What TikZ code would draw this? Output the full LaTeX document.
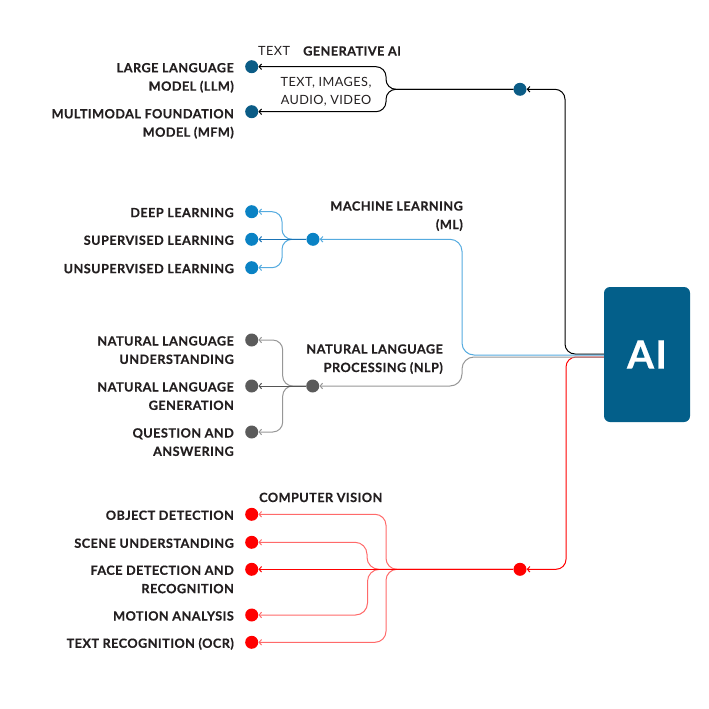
\documentclass[tikz,border=0pt]{standalone}
\usepackage{fontspec}
\setmainfont{Lato}[LetterSpace=3.5, BoldFeatures={FakeBold=0.4}]
\usetikzlibrary{arrows.meta}
\definecolor{txt}{HTML}{231F20}
\definecolor{aiblue}{HTML}{035F8A}
\definecolor{gendot}{HTML}{0B5C86}
\definecolor{mldot}{HTML}{0A82C4}
\definecolor{mllight}{HTML}{55ABDF}
\definecolor{mldark}{HTML}{1A73B5}
\definecolor{nlpdot}{HTML}{5B5B5B}
\definecolor{nlpline}{HTML}{979797}
\definecolor{nlpdark}{HTML}{555555}
\definecolor{cvred}{HTML}{FF0000}
\definecolor{cvlight}{HTML}{FF6A6A}
\begin{document}
\begin{tikzpicture}[x=1pt,y=-1pt,
  font=\fontsize{12.7}{18.4}\selectfont\bfseries,
  dotn/.style={circle, inner sep=0pt, minimum size=13pt, fill=#1},
  lbl/.style={anchor=base east, align=right, inner sep=0pt, text=txt},
  lblw/.style={anchor=base west, inner sep=0pt, text=txt},
  conn/.style={<-, >={Straight Barb[length=2.5pt,width=5.5pt]}, rounded corners=10pt, line width=1pt}]
\useasboundingbox (0,0) rectangle (709,709);

% AI box
\node[fill=aiblue, rounded corners=6pt, minimum width=86pt, minimum height=135pt, inner sep=0pt,
      text=white, font=\fontsize{39}{39}\selectfont\bfseries] (ai) at (647,354.5) {AI};

% Generative AI
\node[dotn=gendot] (genhub) at (520,89.3) {};
\node[dotn=gendot] (llm) at (251.7,66.7) {};
\node[dotn=gendot] (mfm) at (251.7,111.7) {};
\node[lblw, font=\fontsize{12.7}{18.4}\selectfont] (ttext) at (258,55.6) {TEXT};
\node[lblw] (genlbl) at (303,55.6) {GENERATIVE AI};
\node[anchor=base, align=center, inner sep=0pt, text=txt, font=\fontsize{12.7}{17.3}\selectfont] (media) at (326,104) {TEXT, IMAGES,\\AUDIO, VIDEO};
\node[lbl] (llml) at (234,90.7) {LARGE LANGUAGE\\MODEL (LLM)};
\node[lbl] (mfml) at (234,136.7) {MULTIMODAL FOUNDATION\\MODEL (MFM)};

% Machine learning
\node[dotn=mldot] (mlhub) at (313,239.3) {};
\node[dotn=mldot] (dl) at (251.7,211.7) {};
\node[dotn=mldot] (sl) at (251.7,239.3) {};
\node[dotn=mldot] (ul) at (251.7,267.7) {};
\node[lbl] (dll) at (234,217.2) {DEEP LEARNING};
\node[lbl] (sll) at (234,244.8) {SUPERVISED LEARNING};
\node[lbl] (ull) at (234,273.2) {UNSUPERVISED LEARNING};
\node[lbl] (mllbl) at (463,229) {MACHINE LEARNING\\(ML)};

% NLP
\node[dotn=nlpdot] (nlphub) at (312.7,386) {};
\node[dotn=nlpdot] (nlu) at (251.7,340) {};
\node[dotn=nlpdot] (nlg) at (251.7,386) {};
\node[dotn=nlpdot] (qa) at (251.7,432) {};
\node[lbl] (nlul) at (234,363.9) {NATURAL LANGUAGE\\UNDERSTANDING};
\node[lbl] (nlgl) at (234,409.9) {NATURAL LANGUAGE\\GENERATION};
\node[lbl] (qal) at (234,455.9) {QUESTION AND\\ANSWERING};
\node[lbl] (nlplbl) at (443,372) {NATURAL LANGUAGE\\PROCESSING (NLP)};

% Computer vision
\node[dotn=cvred] (cvhub) at (520,569.3) {};
\node[dotn=cvred] (od) at (251.7,514.3) {};
\node[dotn=cvred] (su) at (251.7,542.3) {};
\node[dotn=cvred] (fd) at (251.7,569.3) {};
\node[dotn=cvred] (ma) at (251.7,615) {};
\node[dotn=cvred] (tr) at (251.7,642.3) {};
\node[lblw] (cvlbl) at (259,502) {COMPUTER VISION};
\node[lbl] (odl) at (234,519.8) {OBJECT DETECTION};
\node[lbl] (sul) at (234,547.8) {SCENE UNDERSTANDING};
\node[lbl] (fdl) at (234,593.2) {FACE DETECTION AND\\RECOGNITION};
\node[lbl] (mal) at (234,620.5) {MOTION ANALYSIS};
\node[lbl] (trl) at (234,647.8) {TEXT RECOGNITION (OCR)};

% connectors: generative AI
\draw[conn, black] (llm) -- (386,66.7) -- (386,89.3) -- (genhub);
\draw[conn, black] (mfm) -- (386,111.7) -- (386,89.3) -- (genhub);
\draw[conn, black] (genhub) -- (565,89.3) -- (565,354) -- ([yshift=0.5pt]ai.west);

% ML
\draw[conn, mllight] (dl) -- (282,211.7) -- (282,239.3) -- (mlhub);
\draw[conn, mllight] (ul) -- (282,267.7) -- (282,239.3) -- (mlhub);
\draw[conn, mldark] (sl) -- (mlhub);
\draw[conn, mllight, rounded corners=12pt] (mlhub) -- (462,239.3) -- (462,355) -- ([yshift=-0.5pt]ai.west);

% CV
\draw[conn, cvlight, rounded corners=11pt] (od) -- (386,514.3) -- (386,569.3) -- (cvhub);
\draw[conn, cvlight, rounded corners=12pt] (su) -- (367,542.3) -- (367,569.3) -- (cvhub);
\draw[conn, cvlight, rounded corners=12pt] (ma) -- (367.5,615) -- (367.5,569.3) -- (cvhub);
\draw[conn, cvlight, rounded corners=11pt] (tr) -- (386,642.3) -- (386,569.3) -- (cvhub);
\draw[conn, cvred] (fd) -- (cvhub);
\draw[conn, cvred] (cvhub) -- (566,569.3) -- (566,357) -- ([yshift=-2.5pt]ai.west);

% NLP
\draw[conn, nlpline] (nlu) -- (282.7,340) -- (282.7,386) -- (nlphub);
\draw[conn, nlpline] (qa) -- (282.7,432) -- (282.7,386) -- (nlphub);
\draw[conn, nlpdark] (nlg) -- (nlphub);
\draw[conn, nlpline, rounded corners=12pt] (nlphub) -- (462,386) -- (462,357) -- ([yshift=-2.5pt]ai.west);
\end{tikzpicture}
\end{document}
